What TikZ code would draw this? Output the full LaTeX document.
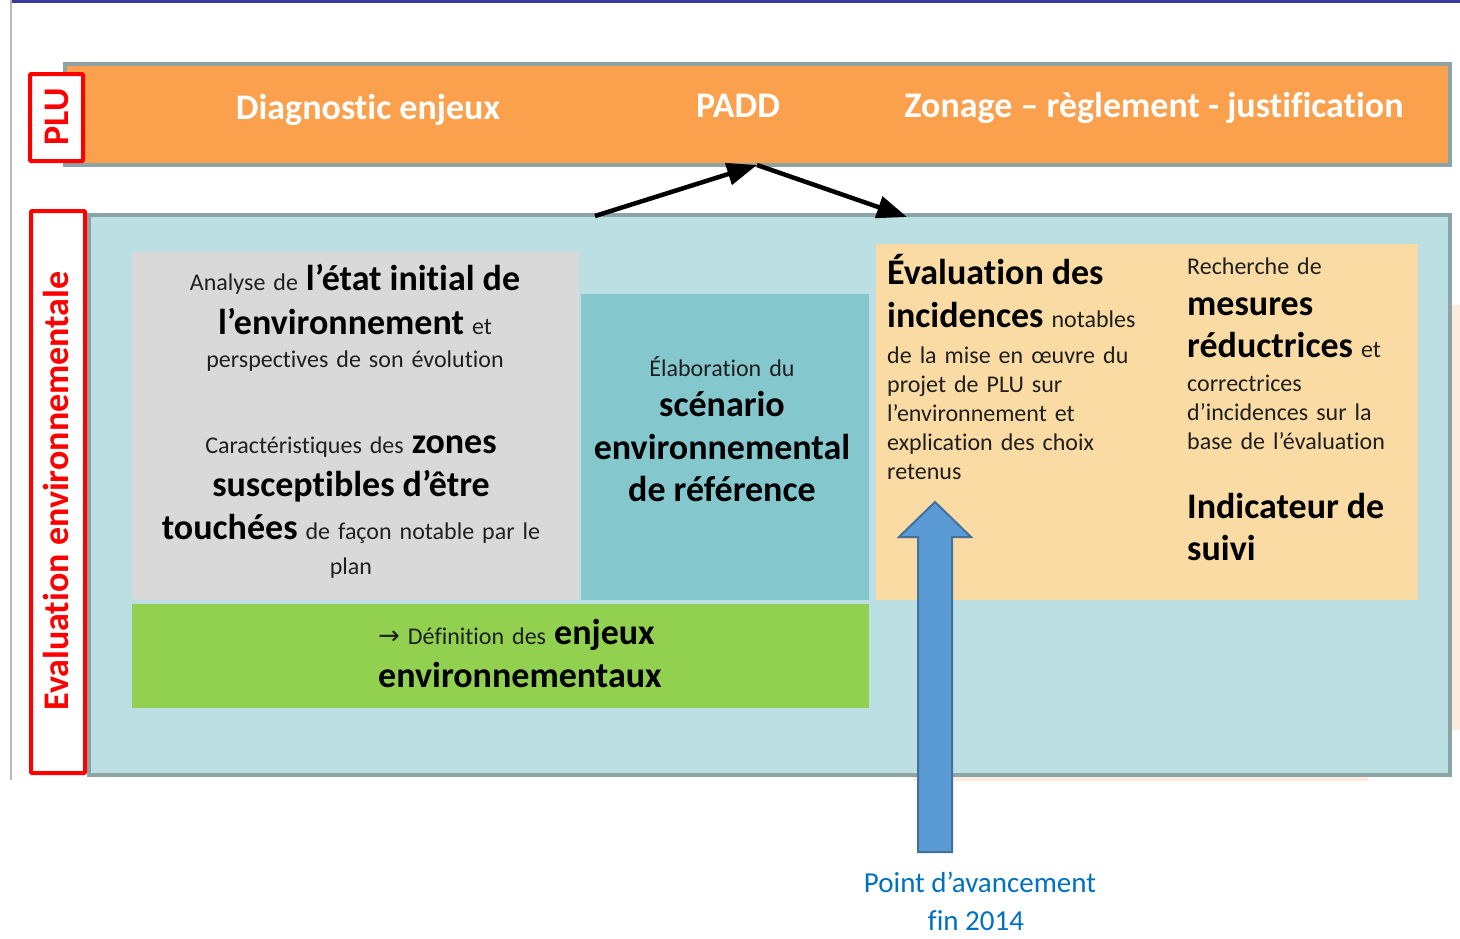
\documentclass[tikz,border=0pt]{standalone}
\usepackage{fontspec}
\setmainfont{Carlito}[Ligatures={NoCommon,NoRequired,NoContextual}, Contextuals=NoAlternate]
\newfontfamily\symb{DejaVu Sans}
\usetikzlibrary{arrows.meta}

\definecolor{barorange}{RGB}{251,160,76}
\definecolor{framegrey}{RGB}{140,164,166}
\definecolor{eebg}{RGB}{187,223,227}
\definecolor{etatgrey}{RGB}{217,217,217}
\definecolor{scenteal}{RGB}{132,199,205}
\definecolor{enjgreen}{RGB}{146,208,80}
\definecolor{evalpeach}{RGB}{249,219,163}
\definecolor{faintpeach}{RGB}{253,236,221}
\definecolor{arrowblue}{RGB}{91,155,213}
\definecolor{arrowedge}{RGB}{65,113,156}
\definecolor{avblue}{RGB}{0,112,192}
\definecolor{topnavy}{RGB}{58,58,160}

\newcommand{\gras}[1]{{\color{black}\bfseries\fontsize{36}{0}\selectfont #1}}
\newcommand{\serre}{\fontsize{24}{0}\selectfont\lineskiplimit=-100pt\relax}

\tikzset{
  frame/.style={draw=framegrey, line width=4pt},
  redframe/.style={draw=red, line width=4pt, fill=white, rounded corners=1pt},
  bloc/.style={inner sep=0pt, text=black!88, font=\serre},
  titre/.style={inner sep=0pt, anchor=base, text=white, font=\bfseries\fontsize{36}{0}\selectfont},
  vlabel/.style={inner sep=0pt, anchor=base, rotate=90, text=red, font=\bfseries\fontsize{36}{0}\selectfont},
  lien/.style={line width=4.5pt, -{Triangle[length=30pt,width=22pt]}},
}

\begin{document}
\begin{tikzpicture}[x=1pt, y=-1pt]
  \useasboundingbox (0,0) rectangle (1460,938);

  % cadre de la page
  \fill[topnavy] (12,0) rectangle (1460,2.5);
  \draw[black!28, line width=2pt] (11,0) -- (11,780);
  \fill[faintpeach] (1452,305) rectangle (1460,730);
  \fill[faintpeach] (913,776) rectangle (1368,781);

  % bandeau PLU
  \draw[frame, fill=barorange] (65,64) rectangle (1450,165);
  \node[titre] (diag) at (368,119) {Diagnostic enjeux};
  \node[titre] (padd) at (738,117) {PADD};
  \node[titre] (zonage) at (1154,117) {Zonage – règlement - justification};

  % evaluation environnementale
  \draw[frame, fill=eebg] (89,215) rectangle (1450,775);
  \fill[etatgrey] (132,252) rectangle (579,600);
  \fill[scenteal] (581,294) rectangle (869,600);
  \fill[enjgreen] (132,604) rectangle (869,708);
  \fill[evalpeach] (876,244) rectangle (1418,600);

  \draw[redframe] (30,74) rectangle (83,161);
  \node[vlabel] (plu) at (68,117) {PLU};
  \draw[redframe] (31,211) rectangle (85,773);
  \node[vlabel] (ee) at (68,491) {Evaluation environnementale};

  \node[bloc, text width=440pt, align=center, anchor=base] (etat) at (355,290)
    {Analyse de \gras{l’état initial de}\\[44pt]
     \gras{l’environnement} et\\[33pt]
     perspectives de son évolution};
  \node[bloc, text width=440pt, align=center, anchor=base] (zones) at (351,453)
    {Caractéristiques des \gras{zones}\\[43pt]
     \gras{susceptibles d’être}\\[43pt]
     \gras{touchées} de façon notable par le\\[35pt]
     plan};
  \node[bloc, text width=284pt, align=center, anchor=base] (scenario) at (722,376)
    {Élaboration du\\[40pt]
     \gras{scénario}\\[43pt]
     \gras{environnemental}\\[42pt]
     \gras{de référence}};
  \node[bloc, text width=300pt, align=left, anchor=base west] (enjeux) at (378,644)
    {{\symb\fontsize{26}{0}\selectfont →} Définition des \gras{enjeux}\\[43pt]
     \gras{environnementaux}};
  \node[bloc, text width=285pt, align=left, anchor=base west] (incidences) at (887,284)
    {\gras{Évaluation des}\\[43pt]
     \gras{incidences} notables\\[36pt]
     de la mise en œuvre du\\[29pt]
     projet de PLU sur\\[29pt]
     l’environnement et\\[29pt]
     explication des choix\\[29pt]
     retenus};
  \node[bloc, text width=230pt, align=left, anchor=base west] (mesures) at (1187,274)
    {Recherche de\\[41pt]
     \gras{mesures}\\[42pt]
     \gras{réductrices} et\\[34pt]
     correctrices\\[29pt]
     d’incidences sur la\\[29pt]
     base de l’évaluation\\[69pt]
     \gras{Indicateur de}\\[42pt]
     \gras{suivi}};

  % liens PLU / EE
  \coordinate (ee-gauche) at (595,216);
  \coordinate (padd-pied) at (757,165);
  \coordinate (ee-droite) at (907,217);
  \draw[lien] (ee-gauche) -- (padd-pied);
  \draw[lien] (padd-pied) -- (ee-droite);

  % point d'avancement
  \draw[arrowedge, line width=2pt, fill=arrowblue]
    (918,852) -- (918,537) -- (899,537) -- (935,502) -- (971,537)
    -- (952,537) -- (952,852) -- cycle;
  \node[inner sep=0pt, text=avblue, font=\fontsize{29}{0}\selectfont, anchor=base] (avance) at (980,892) {Point d’avancement};
  \node[inner sep=0pt, text=avblue, font=\fontsize{29}{0}\selectfont, anchor=base] (fin) at (976,930) {fin 2014};
\end{tikzpicture}
\end{document}
